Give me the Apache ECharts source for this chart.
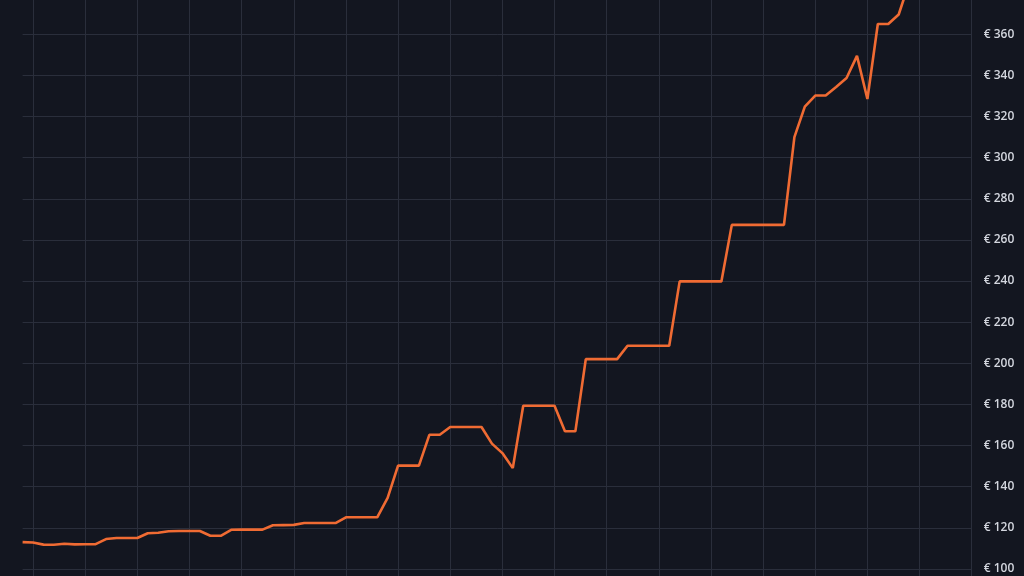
<!DOCTYPE html>
<html>
<head>
<meta charset="utf-8">
<style>
html,body{margin:0;padding:0;background:#131620;overflow:hidden;width:1024px;height:576px;}
#wrap{position:relative;width:1024px;height:576px;overflow:hidden;}
#chart{position:absolute;left:0;top:-48px;width:1024px;height:658px;}
</style>
<script src="https://cdn.jsdelivr.net/npm/echarts@6/dist/echarts.min.js"></script>
</head>
<body>
<div id="wrap"><div id="chart"></div></div>
<script>
// x positions (periods); 92 category slots across the plot
const categories = ['P0','P1','P2','P3','P4','P5','P6','P7','P8','P9','P10','P11','P12','P13','P14','P15','P16','P17','P18','P19','P20','P21','P22','P23','P24','P25','P26','P27','P28','P29','P30','P31','P32','P33','P34','P35','P36','P37','P38','P39','P40','P41','P42','P43','P44','P45','P46','P47','P48','P49','P50','P51','P52','P53','P54','P55','P56','P57','P58','P59','P60','P61','P62','P63','P64','P65','P66','P67','P68','P69','P70','P71','P72','P73','P74','P75','P76','P77','P78','P79','P80','P81','P82','P83','P84','P85','P86','P87','P88','P89','P90','P91'];

// price values (EUR)
const prices = [
  113, 112.8, 111.8, 111.7, 112.2, 111.9, 112, 112, 114.5, 115,
  115, 115, 117.3, 117.6, 118.3, 118.4, 118.4, 118.4, 116.1, 116.1,
  119, 119.1, 119.1, 119.1, 121.2, 121.3, 121.4, 122.3, 122.3, 122.3,
  122.3, 125.1, 125.1, 125.1, 125.1, 134.5, 150.2, 150.2, 150.2, 165.2,
  165.2, 169, 169, 169, 169, 160.9, 156.3, 149, 179.3, 179.3,
  179.3, 179.3, 166.9, 166.9, 202, 202, 202, 202, 208.5, 208.5,
  208.5, 208.5, 208.5, 239.8, 239.8, 239.8, 239.8, 239.8, 267.3, 267.3,
  267.3, 267.3, 267.3, 267.3, 310, 324.8, 330.2, 330.2, 334.3, 338.7,
  349.5, 328.5, 365, 365, 369.6, 385
];

// y-axis ticks
const yMin = 80, yMax = 400, yStep = 20;

const chart = echarts.init(document.getElementById('chart'), null, {renderer: 'canvas'});
chart.setOption({
  backgroundColor: '#131620',
  animation: false,
  grid: {left: 22.6, right: 52.3, top: 0, bottom: 0, containLabel: false, outerBoundsMode: 'none'},
  xAxis: {
    type: 'category',
    data: categories,
    boundaryGap: false,
    axisLine: {show: false},
    axisTick: {show: false},
    axisLabel: {show: false},
    splitLine: {
      show: true,
      interval: function (idx) { return idx % 5 === 1; },
      lineStyle: {color: '#2a2e3b', width: 1}
    }
  },
  yAxis: {
    type: 'value',
    position: 'right',
    min: yMin, max: yMax, interval: yStep,
    axisLine: {show: false},
    axisTick: {show: false},
    axisLabel: {
      margin: 12,
      formatter: '€ {value}',
      color: '#d4d7df',
      fontSize: 12,
      fontWeight: 600,
      fontFamily: 'Open Sans, Noto Sans, sans-serif'
    },
    splitLine: {show: true, lineStyle: {color: '#2a2e3b', width: 1}}
  },
  series: [{
    type: 'line',
    data: prices,
    symbol: 'none',
    clip: true,
    lineStyle: {color: '#f06b33', width: 2.6},
    itemStyle: {color: '#f06b33'}
  }]
});
</script>
</body>
</html>
